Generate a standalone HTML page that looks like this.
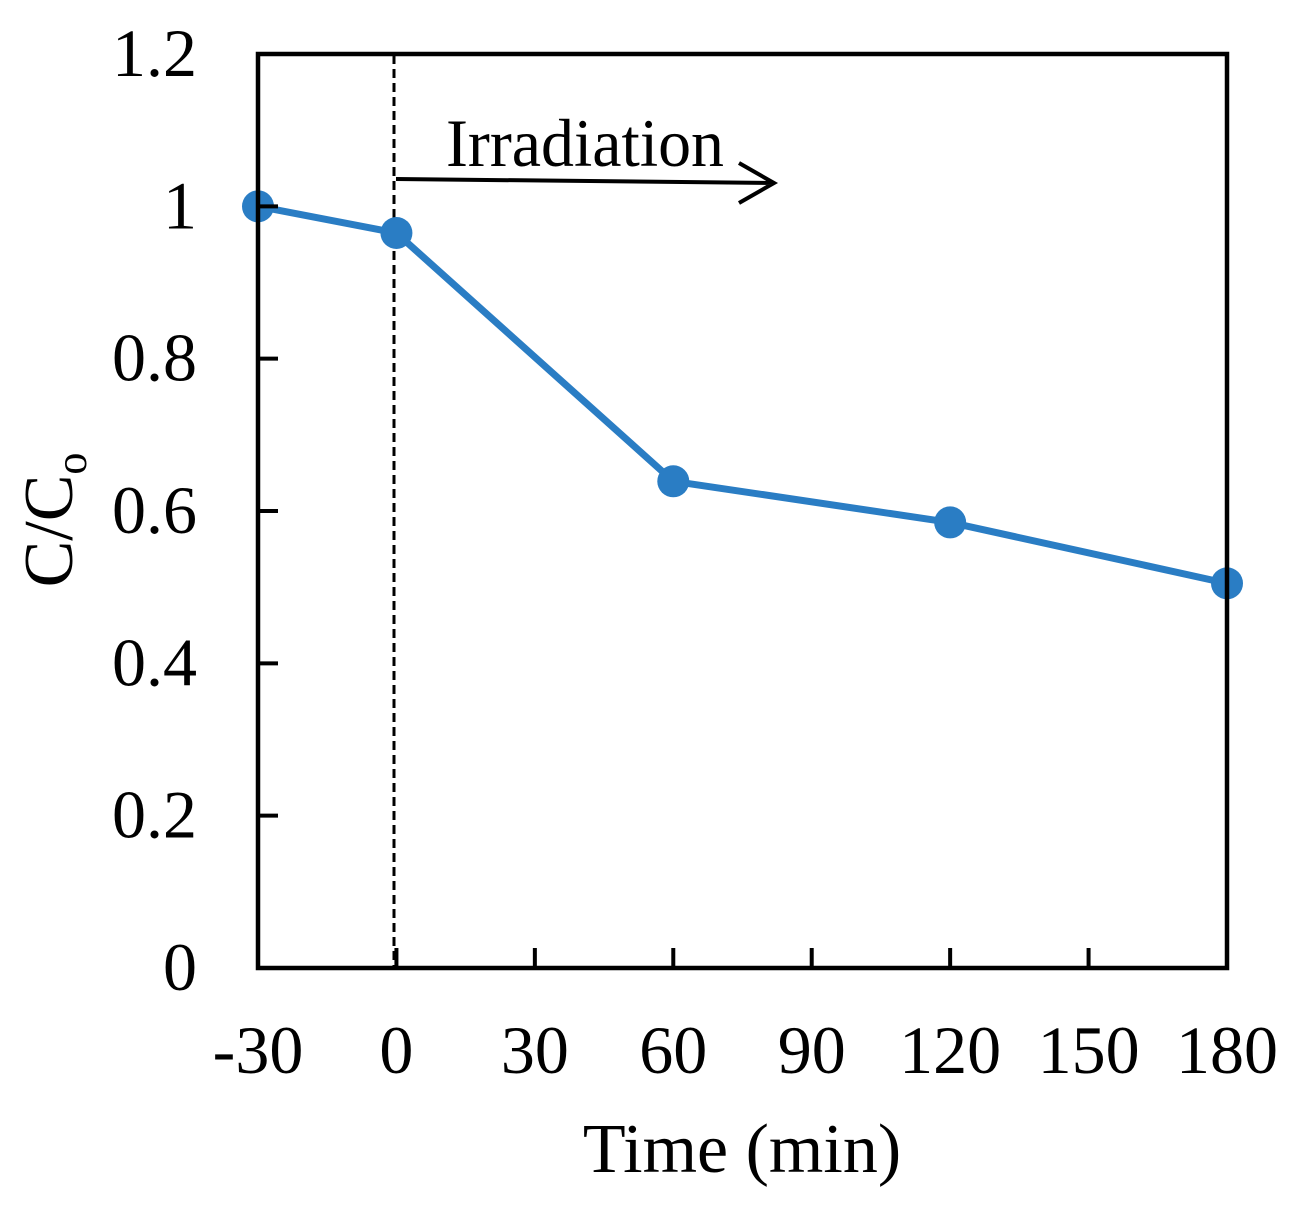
<!DOCTYPE html>
<html><head><meta charset="utf-8"><style>
html,body{margin:0;padding:0;background:#fff;}
svg text{font-family:"Liberation Serif",serif;fill:#000;}
</style></head><body>
<svg id="chart" width="1292" height="1207" viewBox="0 0 1292 1207">
<g id="grid"></g>
<line x1="394" y1="55" x2="394" y2="968" stroke="#000" stroke-width="3" stroke-dasharray="9,5"/>
<text x="446" y="166" font-size="68" textLength="278" lengthAdjust="spacingAndGlyphs">Irradiation</text>
<path d="M396 179 L774 183 M739 163 L774 183 L739 203" fill="none" stroke="#000" stroke-width="4"/>
<g id="series"></g>
<rect x="258" y="54" width="969" height="914" fill="none" stroke="#000" stroke-width="4.5"/>
<g id="axes"></g>
<text x="742" y="1172" font-size="70" text-anchor="middle">Time (min)</text>
<text transform="translate(72,520) rotate(-90)" font-size="70" text-anchor="middle">C/C<tspan font-size="44" dy="14">o</tspan></text>
</svg>
<script>
const times = [-30, 0, 60, 120, 180];
const ratios = [1.0, 0.965, 0.639, 0.585, 0.505];
const xTicks = [-30, 0, 30, 60, 90, 120, 150, 180];
const yTicks = [0, 0.2, 0.4, 0.6, 0.8, 1, 1.2];
const yTickLabels = ["0", "0.2", "0.4", "0.6", "0.8", "1", "1.2"];

const NS = "http://www.w3.org/2000/svg";
const X0 = 258, X1 = 1227, Y0 = 968, Y1 = 54;
function xs(v){ return X0 + (v - (-30)) / 210 * (X1 - X0); }
function ys(v){ return Y0 - v / 1.2 * (Y0 - Y1); }
function mk(tag, attrs, parent){ const e = document.createElementNS(NS, tag); for (const k in attrs) e.setAttribute(k, attrs[k]); parent.appendChild(e); return e; }

const axes = document.getElementById('axes');
xTicks.forEach(function(t){
  const l = mk('line', {x1: xs(t), x2: xs(t), y1: Y0, y2: Y0 - 20, stroke: '#000', 'stroke-width': 4}, axes);
  
  
  const tx = mk('text', {x: xs(t), y: 1073, 'font-size': 68, 'text-anchor': 'middle'}, axes);
  tx.textContent = String(t);
  
  
});
yTicks.forEach(function(t, i){
  const l = mk('line', {x1: X0, x2: X0 + 20, y1: ys(t), y2: ys(t), stroke: '#000', 'stroke-width': 4}, axes);
  
  
  const tx = mk('text', {x: 197, y: ys(t) + 22, 'font-size': 68, 'text-anchor': 'end'}, axes);
  tx.textContent = yTickLabels[i];
  
  
});

const series = document.getElementById('series');
const pts = times.map(function(t, i){ return xs(t) + ',' + ys(ratios[i]); }).join(' ');
const pl = mk('polyline', {points: pts, fill: 'none', stroke: '#2a7dc4', 'stroke-width': 7, 'stroke-linejoin': 'round'}, series);


times.forEach(function(t, i){
  const c = mk('circle', {cx: xs(t), cy: ys(ratios[i]), r: 16, fill: '#2a7dc4'}, series);
  
  
});
</script>
</body></html>
